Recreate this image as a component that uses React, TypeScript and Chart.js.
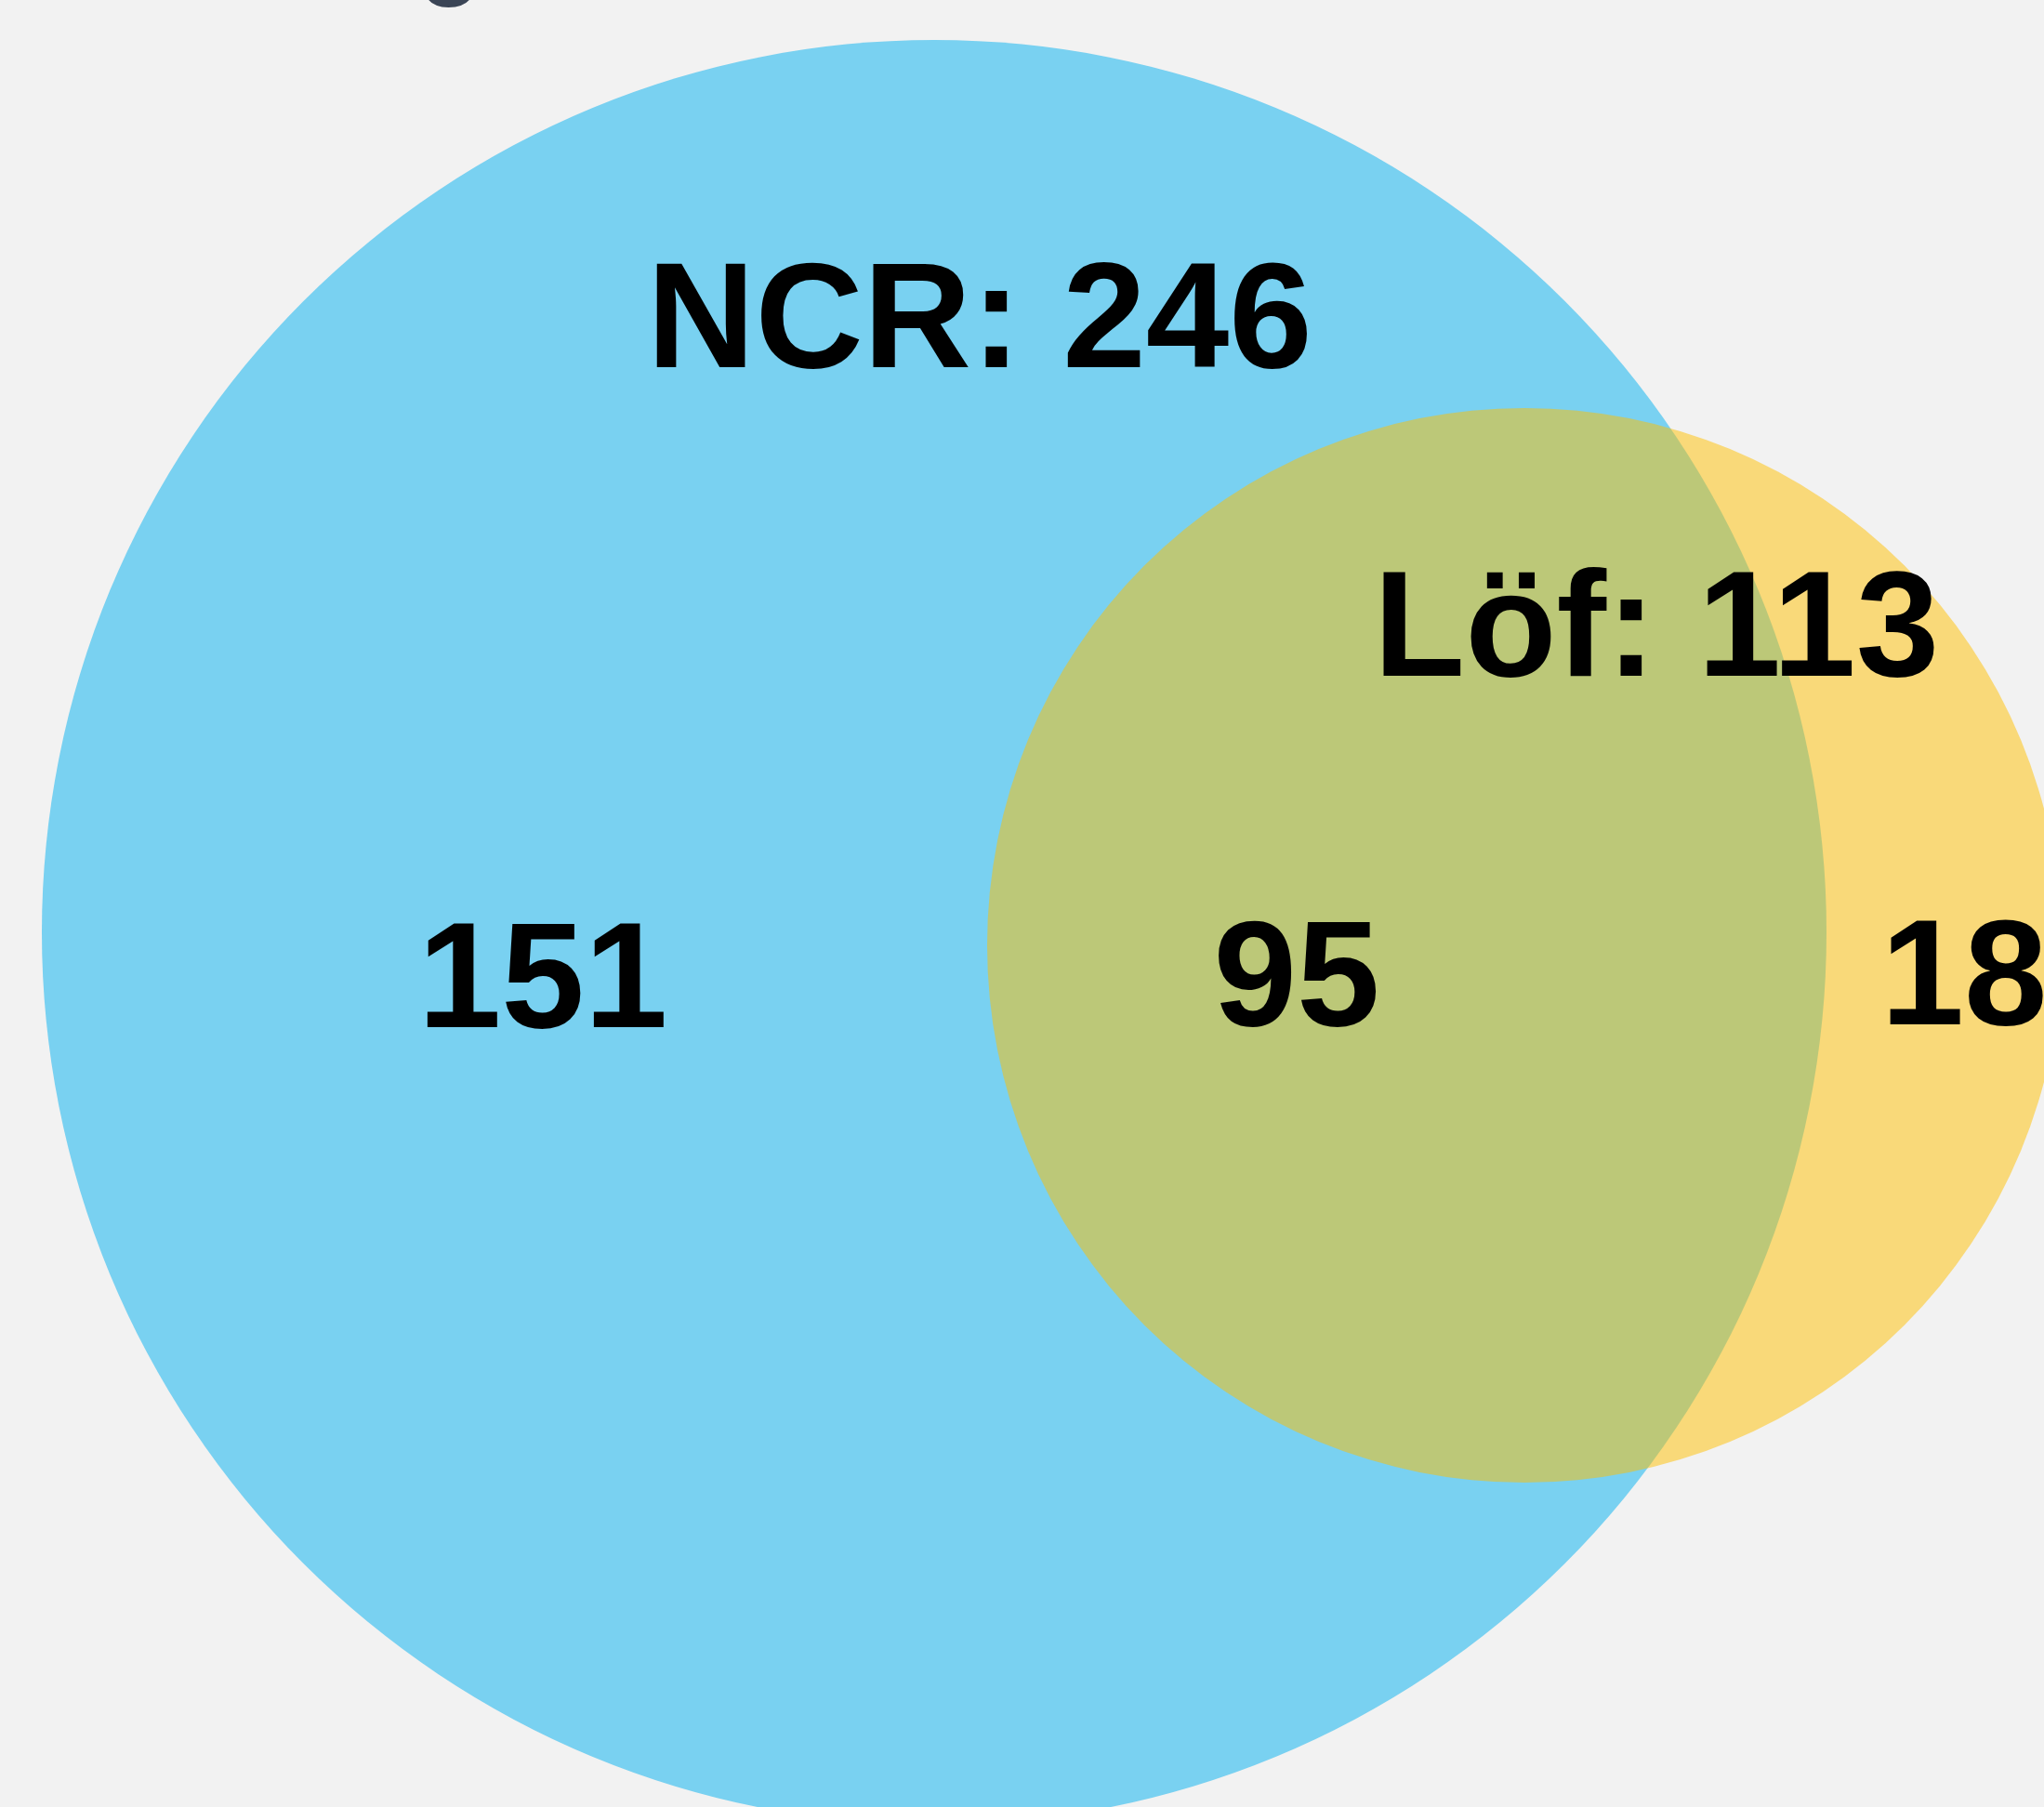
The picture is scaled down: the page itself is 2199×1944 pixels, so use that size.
import { useEffect, useRef } from "react";
import { Chart, registerables } from "chart.js";

Chart.register(...registerables);

// ---- data ----
const setNames = ["NCR", "Löf"];
const setTotals = [246, 113];
const regionNames = ["NCR only", "NCR ∩ Löf", "Löf only"];
const regionCounts = [151, 95, 18];

// ---- layout (canvas / data units) ----
const W = 2199;
const H = 1944;
const circleX = [1005, 1640];
const circleY = [1003, 1017];
const circleR = [960, 578];
const setLabelPos = [
  [1054, 395],
  [1782, 727],
];
const regionLabelPos = [
  [584, 1105],
  [1395, 1103],
  [2113, 1102],
];
const setColors = ["rgba(0,176,240,0.5)", "rgba(255,192,0,0.5)"];

const bgPlugin = {
  id: "bgFill",
  beforeDraw(chart: any) {
    const { ctx } = chart;
    ctx.save();
    ctx.fillStyle = "#f2f2f2";
    ctx.fillRect(0, 0, chart.width, chart.height);
    ctx.restore();
  },
};

const labelPlugin = {
  id: "vennLabels",
  afterDatasetsDraw(chart: any) {
    const { ctx, scales } = chart;
    const xs = scales.x;
    const ys = scales.y;
    ctx.save();
    // partial glyph of a clipped title at the top edge
    ctx.fillStyle = "#3b4556";
    ctx.font = '130px "Liberation Sans", Arial, sans-serif';
    ctx.textAlign = "center";
    ctx.textBaseline = "alphabetic";
    ctx.fillText("o", xs.getPixelForValue(483), ys.getPixelForValue(7));

    ctx.fillStyle = "#000000";
    ctx.font = 'bold 161px "Liberation Sans", Arial, sans-serif';
    setNames.forEach((n, i) => {
      ctx.fillText(
        `${n}: ${setTotals[i]}`,
        xs.getPixelForValue(setLabelPos[i][0]),
        ys.getPixelForValue(setLabelPos[i][1])
      );
    });
    regionCounts.forEach((c, i) => {
      ctx.fillText(
        String(c),
        xs.getPixelForValue(regionLabelPos[i][0]),
        ys.getPixelForValue(regionLabelPos[i][1])
      );
    });
    ctx.restore();
  },
};

export default function App() {
  const ref = useRef<HTMLCanvasElement>(null);
  useEffect(() => {
    const canvas = ref.current;
    if (!canvas) return;
    const chart = new Chart(canvas, {
      type: "bubble",
      data: {
        datasets: setNames.map((n, i) => ({
          label: n,
          data: [{ x: circleX[i], y: circleY[i], r: circleR[i] }],
          backgroundColor: setColors[i],
          hoverBackgroundColor: setColors[i],
          borderWidth: 0,
          hoverBorderWidth: 0,
          order: 2 - i,
          clip: false as any,
        })),
      },
      options: {
        responsive: false,
        devicePixelRatio: 1,
        animation: false,
        events: [],
        layout: { autoPadding: false, padding: 0 },
        scales: {
          x: { type: "linear", min: 0, max: W, display: false },
          y: { type: "linear", min: 0, max: H, reverse: true, display: false },
        },
        plugins: {
          legend: { display: false },
          tooltip: { enabled: false },
          title: { display: false },
        },
      },
      plugins: [bgPlugin, labelPlugin],
    } as any);
    return () => chart.destroy();
  }, []);
  return (
    <div style={{ position: "absolute", left: 0, top: 0, width: W, height: H }}>
      <canvas
        ref={ref}
        width={W}
        height={H}
        style={{ display: "block", width: W, height: H }}
        aria-label={regionNames.join(", ")}
      />
    </div>
  );
}
